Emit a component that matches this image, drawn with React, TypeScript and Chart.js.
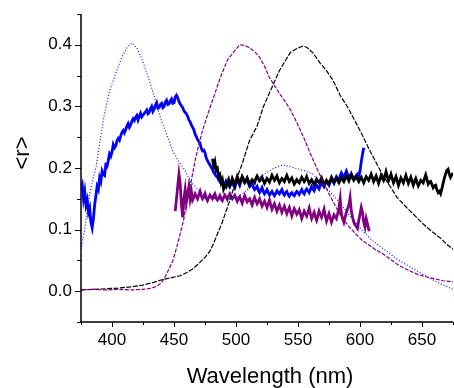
import React, { useEffect, useRef } from "react";
import { Chart, registerables } from "chart.js";

Chart.register(...registerables);

const FONT = "'Liberation Sans', Arial, Helvetica, sans-serif";

// Axis ranges and tick settings
const xMin = 375;
const xMax = 675;
const xStep = 25;
const yMin = -0.05;
const yMax = 0.45;
const yStep = 0.05;
const xTitle = "Wavelength (nm)";
const yTitle = "<r>";

// Blue dotted thin curve (wavelength, value)
const blueThin: [number, number][] = [
  [375, 0.068], [378, 0.1], [380, 0.13], [382, 0.158], [385, 0.185], [387, 0.2],
  [390, 0.24], [394, 0.289], [398, 0.325], [404, 0.359], [408, 0.38], [412, 0.395],
  [416, 0.403], [420, 0.395], [424, 0.378], [428, 0.354], [432, 0.33], [436, 0.302],
  [439, 0.282], [444, 0.255], [449, 0.228], [454, 0.21], [459, 0.196], [463, 0.179],
  [468, 0.168], [473, 0.158], [480, 0.152], [487, 0.148], [495, 0.15], [500, 0.152],
  [505, 0.158], [511, 0.168], [517, 0.182], [525, 0.193], [531, 0.2], [538, 0.205],
  [544, 0.202], [549, 0.199], [556, 0.195], [562, 0.19], [568, 0.178], [575, 0.163],
  [584, 0.143], [592, 0.122], [602, 0.098], [610, 0.082], [620, 0.067], [632, 0.049],
  [640, 0.04], [650, 0.028], [659, 0.018], [667, 0.01], [675, 0.003],
];

// Purple dashed thin curve
const purpleThin: [number, number][] = [
  [375, 0.002], [385, 0.003], [395, 0.002], [405, 0.003], [415, 0.002], [425, 0.003],
  [432, 0.005], [436, 0.008], [439, 0.012], [442, 0.02], [444, 0.028], [449, 0.049],
  [452, 0.07], [455, 0.093], [458, 0.118], [460, 0.142], [464, 0.18], [467, 0.212],
  [470, 0.238], [473, 0.261], [478, 0.292], [482, 0.315], [487, 0.345], [493, 0.375],
  [498, 0.388], [503, 0.4], [507, 0.399], [511, 0.395], [515, 0.389], [519, 0.38],
  [523, 0.365], [527, 0.347], [531, 0.334], [535, 0.321], [540, 0.307], [544, 0.294],
  [548, 0.278], [552, 0.261], [556, 0.243], [560, 0.223], [566, 0.196], [570, 0.179],
  [575, 0.158], [581, 0.135], [586, 0.118], [592, 0.103], [597, 0.092], [602, 0.082],
  [606, 0.077], [612, 0.068], [619, 0.06], [625, 0.051], [632, 0.041], [640, 0.033],
  [647, 0.027], [654, 0.023], [660, 0.02], [667, 0.017], [675, 0.015],
];

// Black dashed thin curve
const blackThin: [number, number][] = [
  [375, 0.002], [385, 0.003], [395, 0.004], [405, 0.005], [415, 0.007], [425, 0.01],
  [433, 0.014], [441, 0.019], [448, 0.022], [455, 0.025], [460, 0.03], [465, 0.036],
  [470, 0.045], [475, 0.055], [479, 0.065], [482, 0.078], [485, 0.093], [489, 0.112],
  [492, 0.13], [495, 0.147], [500, 0.18], [505, 0.207], [511, 0.245], [517, 0.268],
  [522, 0.299], [527, 0.322], [531, 0.34], [535, 0.358], [540, 0.375], [544, 0.388],
  [549, 0.394], [554, 0.398], [557, 0.396], [562, 0.387], [568, 0.37], [573, 0.358],
  [578, 0.343], [584, 0.318], [590, 0.299], [595, 0.28], [600, 0.261], [608, 0.228],
  [614, 0.205], [619, 0.186], [625, 0.168], [630, 0.152], [638, 0.135], [645, 0.121],
  [651, 0.109], [658, 0.097], [665, 0.086], [670, 0.076], [675, 0.068],
];

// Black thick noisy curve
const blackThick: [number, number][] = [
  [481, 0.215], [482, 0.203], [483, 0.21], [484, 0.196], [485, 0.199], [486, 0.186],
  [487, 0.189], [488, 0.176], [489, 0.181], [490, 0.166], [491, 0.171], [492, 0.169],
  [493, 0.176], [494, 0.181], [495, 0.171], [496, 0.175], [497, 0.183], [498, 0.178],
  [499, 0.172], [500, 0.179], [501, 0.186], [502, 0.181], [503, 0.175], [505, 0.186],
  [506, 0.182], [507, 0.177], [508, 0.18], [509, 0.184], [511, 0.173], [512, 0.178],
  [513, 0.181], [515, 0.176], [516, 0.183], [517, 0.187], [519, 0.179], [520, 0.181],
  [521, 0.185], [523, 0.175], [524, 0.179], [525, 0.183], [527, 0.177], [529, 0.188],
  [530, 0.184], [531, 0.18], [533, 0.187], [534, 0.181], [535, 0.176], [537, 0.183],
  [538, 0.181], [539, 0.178], [541, 0.188], [542, 0.183], [543, 0.178], [545, 0.184],
  [546, 0.179], [547, 0.174], [549, 0.181], [550, 0.178], [551, 0.176], [553, 0.185],
  [555, 0.178], [556, 0.181], [557, 0.186], [559, 0.175], [560, 0.178], [561, 0.181],
  [563, 0.173], [565, 0.182], [566, 0.179], [567, 0.176], [569, 0.184], [570, 0.179],
  [571, 0.172], [573, 0.18], [574, 0.177], [575, 0.175], [577, 0.185], [578, 0.181],
  [579, 0.177], [581, 0.183], [583, 0.176], [584, 0.18], [585, 0.184], [587, 0.178],
  [589, 0.187], [590, 0.183], [591, 0.179], [593, 0.19], [594, 0.184], [595, 0.18],
  [597, 0.186], [599, 0.178], [600, 0.182], [601, 0.185], [603, 0.176], [604, 0.181],
  [605, 0.186], [607, 0.18], [608, 0.185], [609, 0.19], [611, 0.178], [612, 0.182],
  [613, 0.187], [615, 0.175], [616, 0.181], [617, 0.188], [619, 0.18], [620, 0.186],
  [621, 0.194], [623, 0.179], [624, 0.184], [625, 0.19], [627, 0.176], [628, 0.181],
  [629, 0.186], [631, 0.172], [632, 0.178], [633, 0.184], [635, 0.176], [636, 0.182],
  [637, 0.188], [639, 0.175], [640, 0.18], [641, 0.185], [643, 0.172], [644, 0.178],
  [645, 0.183], [647, 0.171], [648, 0.175], [649, 0.18], [651, 0.176], [652, 0.183],
  [653, 0.189], [655, 0.174], [656, 0.177], [657, 0.178], [659, 0.168], [660, 0.171],
  [661, 0.172], [662, 0.165], [663, 0.16], [664, 0.162], [665, 0.158], [666, 0.166],
  [667, 0.175], [668, 0.183], [669, 0.19], [670, 0.196], [671, 0.198], [672, 0.19],
  [673, 0.185], [674, 0.189], [675, 0.192],
];

// Blue thick noisy curve
const blueThick: [number, number][] = [
  [375, 0.165], [376, 0.172], [377, 0.15], [378, 0.162], [379, 0.14], [380, 0.148],
  [381, 0.128], [382, 0.135], [383, 0.112], [384, 0.103], [385, 0.118], [386, 0.14],
  [387, 0.155], [388, 0.17], [389, 0.165], [390, 0.184], [391, 0.178], [392, 0.195],
  [393, 0.19], [394, 0.188], [395, 0.205], [396, 0.203], [397, 0.212], [398, 0.223],
  [399, 0.219], [400, 0.226], [401, 0.238], [402, 0.233], [403, 0.236], [404, 0.244],
  [405, 0.248], [406, 0.245], [407, 0.252], [408, 0.258], [409, 0.261], [410, 0.257],
  [411, 0.262], [412, 0.268], [413, 0.272], [414, 0.266], [415, 0.27], [416, 0.276],
  [417, 0.28], [418, 0.277], [419, 0.282], [420, 0.285], [421, 0.278], [422, 0.284],
  [423, 0.289], [424, 0.283], [425, 0.286], [427, 0.291], [428, 0.294], [429, 0.288],
  [430, 0.29], [431, 0.296], [432, 0.3], [433, 0.292], [434, 0.296], [435, 0.302],
  [436, 0.306], [437, 0.297], [438, 0.298], [439, 0.303], [440, 0.305], [441, 0.298],
  [442, 0.3], [443, 0.307], [444, 0.31], [445, 0.303], [446, 0.304], [447, 0.309],
  [448, 0.312], [449, 0.305], [450, 0.306], [451, 0.315], [452, 0.318], [453, 0.314],
  [454, 0.308], [455, 0.304], [456, 0.301], [457, 0.298], [458, 0.293], [459, 0.29],
  [460, 0.288], [461, 0.284], [462, 0.278], [463, 0.275], [464, 0.27], [465, 0.266],
  [466, 0.262], [467, 0.255], [468, 0.251], [469, 0.246], [470, 0.243], [471, 0.24],
  [472, 0.232], [473, 0.228], [474, 0.229], [475, 0.225], [476, 0.216], [477, 0.212],
  [478, 0.208], [479, 0.205], [480, 0.201], [481, 0.198], [482, 0.193], [483, 0.19],
  [484, 0.187], [485, 0.185], [486, 0.181], [487, 0.178], [488, 0.183], [489, 0.18],
  [490, 0.175], [491, 0.172], [492, 0.179], [493, 0.176], [494, 0.173], [495, 0.17],
  [496, 0.175], [497, 0.178], [498, 0.172], [499, 0.168], [500, 0.175], [501, 0.18],
  [502, 0.177], [503, 0.172], [504, 0.179], [505, 0.185], [506, 0.18], [507, 0.176],
  [508, 0.179], [509, 0.182], [510, 0.175], [511, 0.17], [512, 0.172], [513, 0.175],
  [514, 0.169], [515, 0.165], [516, 0.167], [517, 0.17], [518, 0.164], [519, 0.16],
  [520, 0.164], [521, 0.168], [522, 0.162], [523, 0.158], [524, 0.161], [525, 0.165],
  [526, 0.16], [527, 0.156], [528, 0.159], [529, 0.162], [530, 0.158], [531, 0.155],
  [532, 0.159], [533, 0.163], [534, 0.16], [535, 0.158], [536, 0.162], [537, 0.165],
  [538, 0.159], [539, 0.156], [540, 0.16], [541, 0.162], [542, 0.157], [543, 0.154],
  [544, 0.158], [545, 0.16], [546, 0.157], [547, 0.155], [548, 0.159], [549, 0.162],
  [550, 0.16], [551, 0.157], [552, 0.161], [553, 0.165], [554, 0.161], [555, 0.158],
  [556, 0.163], [557, 0.166], [558, 0.163], [559, 0.16], [560, 0.165], [561, 0.17],
  [562, 0.166], [563, 0.163], [564, 0.168], [565, 0.172], [566, 0.169], [567, 0.166],
  [568, 0.172], [569, 0.176], [570, 0.173], [571, 0.17], [572, 0.175], [573, 0.178],
  [574, 0.175], [575, 0.172], [576, 0.178], [577, 0.182], [578, 0.178], [579, 0.175],
  [580, 0.181], [581, 0.186], [582, 0.183], [583, 0.18], [584, 0.187], [585, 0.192],
  [586, 0.188], [587, 0.184], [588, 0.19], [589, 0.195], [590, 0.19], [591, 0.185],
  [592, 0.188], [593, 0.19], [594, 0.186], [595, 0.182], [596, 0.185], [597, 0.188],
  [598, 0.19], [599, 0.186], [600, 0.195], [601, 0.21], [602, 0.222], [603, 0.233],
];

// Purple thick noisy curve
const purpleThick: [number, number][] = [
  [451, 0.13], [452, 0.15], [453, 0.17], [454, 0.19], [455, 0.175], [456, 0.14],
  [457, 0.12], [458, 0.15], [459, 0.165], [460, 0.145], [461, 0.158], [462, 0.17],
  [463, 0.15], [464, 0.162], [465, 0.148], [466, 0.152], [467, 0.158], [468, 0.154],
  [469, 0.15], [470, 0.156], [471, 0.162], [472, 0.155], [473, 0.15], [474, 0.153],
  [475, 0.158], [476, 0.151], [477, 0.147], [478, 0.152], [479, 0.156], [480, 0.153],
  [481, 0.15], [482, 0.155], [483, 0.158], [484, 0.151], [485, 0.148], [486, 0.151],
  [487, 0.155], [488, 0.15], [489, 0.147], [490, 0.152], [491, 0.156], [492, 0.153],
  [493, 0.149], [494, 0.154], [495, 0.158], [496, 0.154], [497, 0.15], [498, 0.153],
  [499, 0.156], [500, 0.151], [501, 0.146], [502, 0.15], [503, 0.153], [504, 0.148],
  [505, 0.143], [506, 0.149], [507, 0.155], [508, 0.15], [509, 0.145], [510, 0.148],
  [511, 0.15], [512, 0.145], [513, 0.14], [514, 0.146], [515, 0.152], [516, 0.147],
  [517, 0.142], [518, 0.146], [519, 0.15], [520, 0.144], [521, 0.138], [522, 0.142],
  [523, 0.146], [524, 0.141], [525, 0.136], [526, 0.142], [527, 0.148], [528, 0.14],
  [529, 0.133], [530, 0.138], [531, 0.142], [532, 0.136], [533, 0.13], [534, 0.135],
  [535, 0.14], [536, 0.134], [537, 0.128], [538, 0.133], [539, 0.138], [540, 0.132],
  [541, 0.126], [542, 0.131], [543, 0.136], [544, 0.129], [545, 0.122], [546, 0.128],
  [547, 0.134], [548, 0.13], [549, 0.125], [550, 0.128], [551, 0.132], [552, 0.125],
  [553, 0.118], [554, 0.124], [555, 0.13], [556, 0.126], [557, 0.122], [558, 0.128],
  [559, 0.135], [560, 0.126], [561, 0.118], [562, 0.123], [563, 0.128], [564, 0.121],
  [565, 0.115], [566, 0.122], [567, 0.13], [568, 0.125], [569, 0.12], [570, 0.126],
  [571, 0.133], [572, 0.123], [573, 0.114], [574, 0.12], [575, 0.126], [576, 0.119],
  [577, 0.112], [578, 0.118], [579, 0.124], [580, 0.121], [581, 0.118], [582, 0.126],
  [583, 0.135], [584, 0.15], [585, 0.125], [586, 0.118], [587, 0.112], [588, 0.12],
  [589, 0.128], [590, 0.134], [591, 0.14], [592, 0.152], [593, 0.13], [594, 0.12],
  [595, 0.112], [596, 0.108], [597, 0.105], [598, 0.102], [599, 0.115], [600, 0.125],
  [601, 0.136], [602, 0.128], [603, 0.112], [604, 0.104], [605, 0.118], [606, 0.11],
  [607, 0.1], [608, 0.098],
];

const toPts = (arr: [number, number][]) => arr.map(([x, y]) => ({ x, y }));

const zeroPadding = (s: any) => {
  s.paddingLeft = 0;
  s.paddingRight = 0;
  s.paddingTop = 0;
  s.paddingBottom = 0;
};

const axesPlugin = {
  id: "customAxes",
  afterDraw(chart: any) {
    const { ctx, chartArea, scales } = chart;
    const xs = scales.x;
    const ys = scales.y;
    ctx.save();
    ctx.strokeStyle = "#000";
    ctx.lineWidth = 1.5;
    ctx.beginPath();
    ctx.moveTo(chartArea.left, chartArea.top);
    ctx.lineTo(chartArea.left, chartArea.bottom);
    ctx.lineTo(chartArea.right, chartArea.bottom);
    ctx.stroke();
    ctx.lineWidth = 1;
    ctx.beginPath();
    xs.ticks.forEach((t: any) => {
      const px = Math.round(xs.getPixelForValue(t.value)) + 0.5;
      const major = Math.round(t.value) % 50 === 0;
      ctx.moveTo(px, chartArea.bottom);
      ctx.lineTo(px, chartArea.bottom + (major ? 5 : 3));
    });
    ys.ticks.forEach((t: any) => {
      const py = Math.round(ys.getPixelForValue(t.value)) + 0.5;
      const major = Math.round(t.value * 100) % 10 === 0;
      ctx.moveTo(chartArea.left, py);
      ctx.lineTo(chartArea.left - (major ? 6 : 4), py);
    });
    ctx.stroke();

    ctx.fillStyle = "#000";
    ctx.font = `22px ${FONT}`;
    ctx.textAlign = "center";
    ctx.textBaseline = "alphabetic";
    ctx.fillText(xTitle, 270, 383);

    ctx.translate(29, 153);
    ctx.rotate(-Math.PI / 2);
    ctx.fillText(yTitle, 0, 0);
    ctx.restore();
  },
};

export default function App() {
  const ref = useRef<HTMLCanvasElement | null>(null);

  useEffect(() => {
    if (!ref.current) return;
    const chart = new Chart(ref.current, {
      type: "line",
      data: {
        datasets: [
          { label: "blue thin", data: toPts(blueThin), borderColor: "#1010ff", borderWidth: 1.2, borderDash: [1, 2] },
          { label: "purple thin", data: toPts(purpleThin), borderColor: "#800080", borderWidth: 1.2, borderDash: [4, 1.5] },
          { label: "black thin", data: toPts(blackThin), borderColor: "#000000", borderWidth: 1.2, borderDash: [5, 1.5] },
          { label: "black thick", data: toPts(blackThick), borderColor: "#000000", borderWidth: 2.8 },
          { label: "blue thick", data: toPts(blueThick), borderColor: "#0000ff", borderWidth: 2.8 },
          { label: "purple thick", data: toPts(purpleThick), borderColor: "#800080", borderWidth: 2.8 },
        ].map((d) => ({ ...d, pointRadius: 0, fill: false, tension: 0 })),
      },
      options: {
        animation: false,
        responsive: false,
        events: [],
        layout: { padding: { top: 14, right: 1, left: 0, bottom: 0 } },
        plugins: { legend: { display: false }, tooltip: { enabled: false } },
        scales: {
          x: {
            type: "linear",
            min: xMin,
            max: xMax,
            grid: { display: false, drawTicks: false },
            border: { display: false },
            afterFit: (s: any) => { s.height = 66; zeroPadding(s); },
            ticks: {
              stepSize: xStep,
              autoSkip: false,
              maxRotation: 0,
              padding: 8,
              color: "#000",
              font: { family: FONT, size: 17 },
              callback: (v: any) => (Math.round(Number(v)) % 50 === 0 ? String(Math.round(Number(v))) : ""),
            },
          },
          y: {
            type: "linear",
            min: yMin,
            max: yMax,
            grid: { display: false, drawTicks: false },
            border: { display: false },
            afterFit: (s: any) => { s.width = 81; zeroPadding(s); },
            ticks: {
              stepSize: yStep,
              autoSkip: false,
              padding: 9,
              color: "#000",
              font: { family: FONT, size: 17 },
              callback: (v: any) => {
                const n = Math.round(Number(v) * 100);
                return n % 10 === 0 ? (n / 100).toFixed(1) : "";
              },
            },
          },
        },
      },
      plugins: [axesPlugin],
    });
    return () => chart.destroy();
  }, []);

  return (
    <div style={{ position: "absolute", left: 0, top: 0, width: 454, height: 388, background: "#fff" }}>
      <canvas ref={ref} width={454} height={388} style={{ display: "block" }} />
    </div>
  );
}
